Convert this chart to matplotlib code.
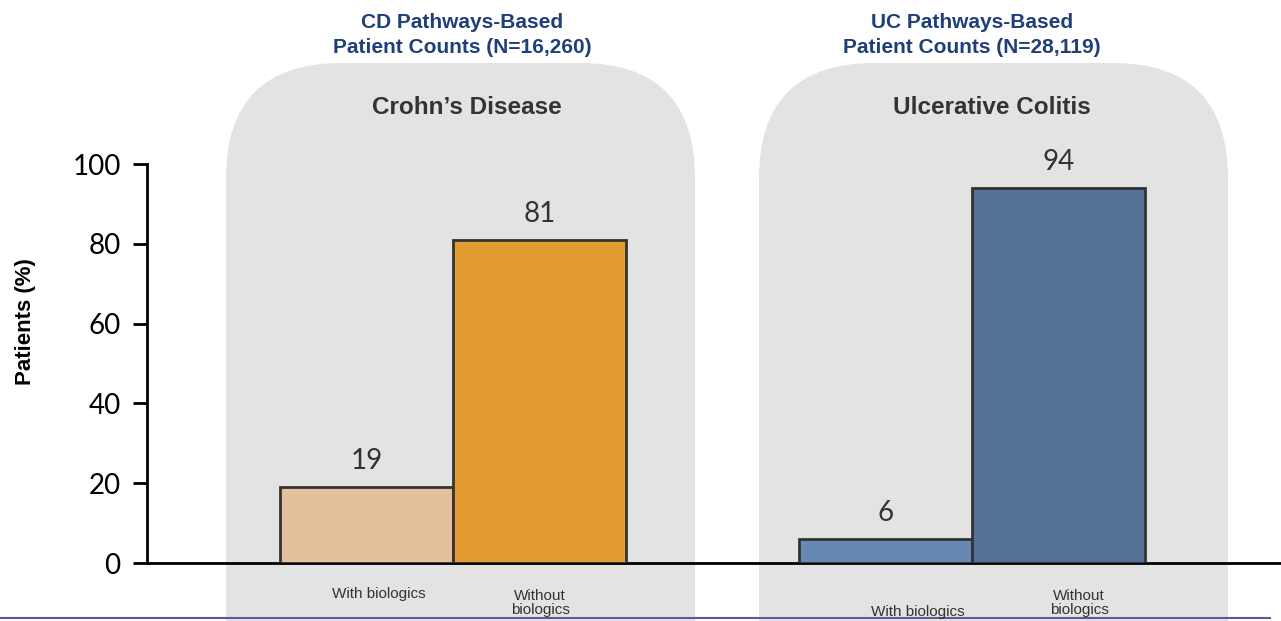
import matplotlib.pyplot as plt
from matplotlib.patches import FancyBboxPatch


# Data
groups = ["Crohn’s Disease", "Ulcerative Colitis"]
group_titles = ["CD Pathways-Based\nPatient Counts (N=16,260)",
                "UC Pathways-Based\nPatient Counts (N=28,119)"]
cd_values = [19, 81]
uc_values = [6, 94]
bar_labels = ["With biologics", "Without\nbiologics"]
yticks = [0, 20, 40, 60, 80, 100]

# Style
cd_colors = ["#E4C19C", "#E29C31"]
uc_colors = ["#6689B3", "#547196"]
cd_pos = [1.27, 2.27]
uc_pos = [4.27, 5.27]
box_grey = "#E3E3E3"
title_blue = "#1F3F7A"
dark = "#333333"
num_font = ["Lato", "DejaVu Sans"]

plt.rcParams["font.family"] = ["Liberation Sans", "DejaVu Sans"]

fig = plt.figure(figsize=(12.81, 6.21), dpi=100)
W, H = 1281, 621
ax = fig.add_axes([147 / W, 1 - 563 / H, 1 - 147 / W, (563 - 164) / H])
ax.set_zorder(2)
ax.patch.set_visible(False)

# Rounded grey panels behind each group (figure pixel coords)
for x0, x1 in [(226, 695), (759, 1228)]:
    box = FancyBboxPatch((x0 / W, -0.2), (x1 - x0) / W, (1 - 63 / H) + 0.2,
                         boxstyle="round,pad=0,rounding_size=0.09",
                         mutation_aspect=W / H,
                         transform=fig.transFigure, facecolor=box_grey,
                         edgecolor="none", zorder=0)
    fig.patches.append(box)

for pos, vals, cols in [(cd_pos, cd_values, cd_colors), (uc_pos, uc_values, uc_colors)]:
    ax.bar(pos, vals, width=1.0, color=cols, edgecolor=dark, linewidth=2, zorder=3)
    for p, v in zip(pos, vals):
        ax.text(p, v + 3.2, str(v), ha="center", va="bottom",
                fontsize=20, color=dark, family=num_font)

ax.set_xlim(0, 6.555)
ax.set_ylim(0, 100)
ax.set_yticks(yticks)
ax.tick_params(axis="y", direction="out", length=10, width=2, labelsize=20, pad=9)
for lab in ax.get_yticklabels():
    lab.set_family(num_font)
ax.tick_params(axis="x", length=0, labelbottom=False)
for s in ["top", "right"]:
    ax.spines[s].set_visible(False)
ax.spines["left"].set_linewidth(2)
ax.spines["bottom"].set_linewidth(2)

fig.text(25 / W, 1 - 322 / H, "Patients (%)", rotation=90, ha="center", va="center",
         fontsize=16, fontweight="bold", color="black")

# Group titles and panel headers
for cx, title in [(462, group_titles[0]), (972, group_titles[1])]:
    fig.text(cx / W, 1 - 35 / H, title, ha="center", va="center", fontsize=15,
             fontweight="bold", color=title_blue, linespacing=1.35)
for cx, grp in [(467, groups[0]), (992, groups[1])]:
    fig.text(cx / W, 1 - 107 / H, grp, ha="center", va="center", fontsize=17.5,
             fontweight="bold", color=dark)

# Category labels under bars
cat_pos = [(379, 594, bar_labels[0]), (540, 603, bar_labels[1]),
           (918, 612, bar_labels[0]), (1079, 603, bar_labels[1])]
for x, y, t in cat_pos:
    fig.text(x / W, 1 - y / H, t, ha="center", va="center", fontsize=11,
             color=dark, linespacing=1.0)

# Bottom rule
fig.add_artist(plt.Line2D([0, 1270 / W], [1 - 618 / H] * 2, color="#5B5B8F",
                          linewidth=1.5, transform=fig.transFigure))

fig.savefig("out.png", dpi=100)
